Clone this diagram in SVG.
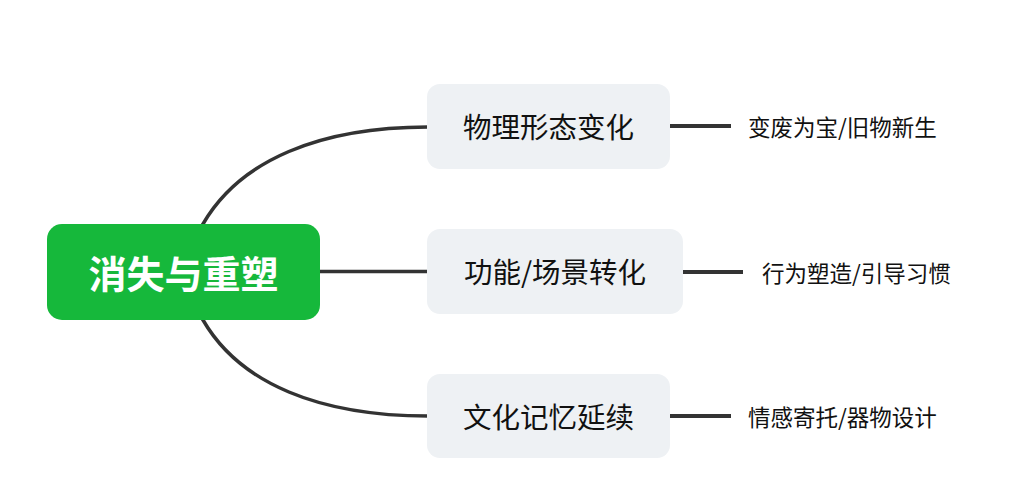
<svg xmlns="http://www.w3.org/2000/svg" width="1009" height="498" viewBox="0 0 1009 498">
  <style>
    .conn { fill: none; stroke: #333333; stroke-width: 3.5; stroke-linecap: butt; }
    .leafline { fill: none; stroke: #333333; stroke-width: 4; }
    .box { fill: #eef1f4; }
    .root { fill: #16b83b; }
    .t { font-family: "Noto Sans CJK SC", "Noto Sans", sans-serif; dominant-baseline: central; }
    .rt { font-size: 38px; font-weight: bold; fill: #ffffff; text-anchor: middle; }
    .bt { font-size: 28.5px; fill: #111111; text-anchor: middle; }
    .lt { font-size: 22.5px; fill: #111111; }
  </style>
  <rect width="1009" height="498" fill="#ffffff"/>
  <g id="connectors">
    <path class="conn" d="M 197 234 L 203 224 C 240 160, 320 127, 428 127"/>
    <path class="conn" d="M 300 271.5 L 428 271.5"/>
    <path class="conn" d="M 197 310 L 203 320 C 240 384, 320 416, 428 416"/>
    <path class="leafline" d="M 670 126 L 731 126"/>
    <path class="leafline" d="M 683 272 L 743 272"/>
    <path class="leafline" d="M 670 416 L 731 416"/>
  </g>
  <g id="root">
    <rect class="root" x="47" y="224" width="273" height="96" rx="15" ry="15"/>
    <text class="t rt" x="183.5" y="271">消失与重塑</text>
  </g>
  <g id="branch1">
    <rect class="box" x="427" y="84" width="243" height="85" rx="13" ry="13"/>
    <text class="t bt" x="548.5" y="125.5">物理形态变化</text>
  </g>
  <g id="branch2">
    <rect class="box" x="427" y="229" width="256" height="85" rx="13" ry="13"/>
    <text class="t bt" x="555" y="270.5">功能/场景转化</text>
  </g>
  <g id="branch3">
    <rect class="box" x="427" y="374" width="243" height="84" rx="13" ry="13"/>
    <text class="t bt" x="548.5" y="415">文化记忆延续</text>
  </g>
  <g id="leaf1">
    <text class="t lt" x="748" y="125.5">变废为宝/旧物新生</text>
  </g>
  <g id="leaf2">
    <text class="t lt" x="762" y="271.5">行为塑造/引导习惯</text>
  </g>
  <g id="leaf3">
    <text class="t lt" x="748" y="415.5">情感寄托/器物设计</text>
  </g>
</svg>
